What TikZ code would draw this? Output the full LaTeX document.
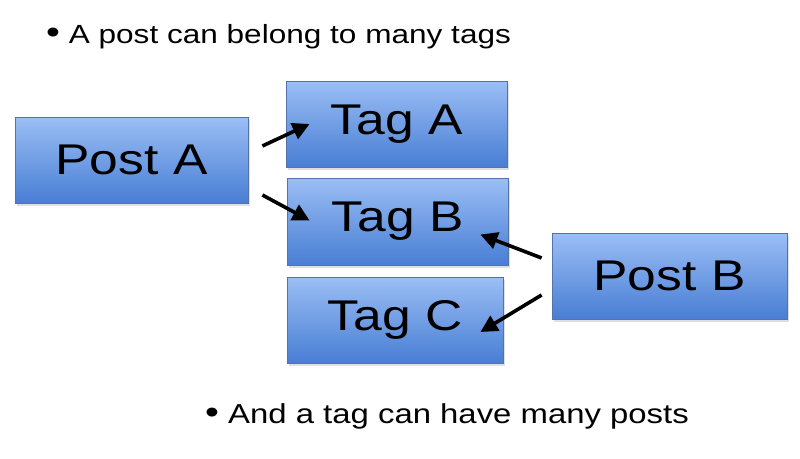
\documentclass[tikz,border=0pt]{standalone}
\usepackage{fontspec}
\setmainfont{Liberation Sans}[FakeStretch=1.2]
\usetikzlibrary{arrows.meta,shadows}
\definecolor{boxtop}{RGB}{155,190,245}
\definecolor{boxbottom}{RGB}{72,126,212}
\definecolor{boxline}{RGB}{85,115,170}
\newcommand{\bigdot}{{\fontsize{33}{33}\selectfont\textbullet}}

\begin{document}
\begin{tikzpicture}[x=1pt, y=-1pt,
    box/.style = {shape=rectangle, draw=boxline, line width=0.8pt,
      inner sep=0pt, align=center, font=\fontsize{43}{48}\selectfont,
      top color=boxtop, bottom color=boxbottom,
      drop shadow={shadow xshift=2pt, shadow yshift=-3pt, opacity=0.25}},
    link/.style = {line width=3.6pt, -{Triangle[length=17pt, width=17pt]}},
    bullet/.style = {anchor=base west, inner sep=0pt, font=\fontsize{26.3}{30}\selectfont}]
    \useasboundingbox (0,0) rectangle (800,458);
    % the two bullet lines
    \node[bullet] (first) at (46,43) {\bigdot\ A post can belong to many tags};
    \node[bullet, font=\fontsize{27.4}{30}\selectfont] (second) at (205,423) {\bigdot\ And a tag can have many posts};
    % posts and tags
    \node[box, minimum width=233pt, minimum height=86pt] (postA) at (131.5,160) {Post A};
    \node[box, minimum width=221pt, minimum height=86pt] (tagA) at (396.5,124) {Tag A};
    \node[box, minimum width=221pt, minimum height=87pt] (tagB) at (397.5,221.5) {Tag B};
    \node[box, minimum width=216pt, minimum height=86pt] (tagC) at (395,320) {Tag C};
    \node[box, minimum width=235pt, minimum height=86pt] (postB) at (669.5,276) {Post B};
    % links
    \draw[link] ([xshift=14pt, yshift=14pt]postA.east) -- ([xshift=24pt, yshift=0pt]tagA.west);
    \draw[link] ([xshift=14pt, yshift=-35pt]postA.east) -- ([xshift=23pt, yshift=1pt]tagB.west);
    \draw[link] ([xshift=-10pt, yshift=18pt]postB.west) -- ([xshift=-28pt, yshift=-13pt]tagB.east);
    \draw[link] ([xshift=-10pt, yshift=-19pt]postB.west) -- ([xshift=-23pt, yshift=-12pt]tagC.east);
\end{tikzpicture}
\end{document}
